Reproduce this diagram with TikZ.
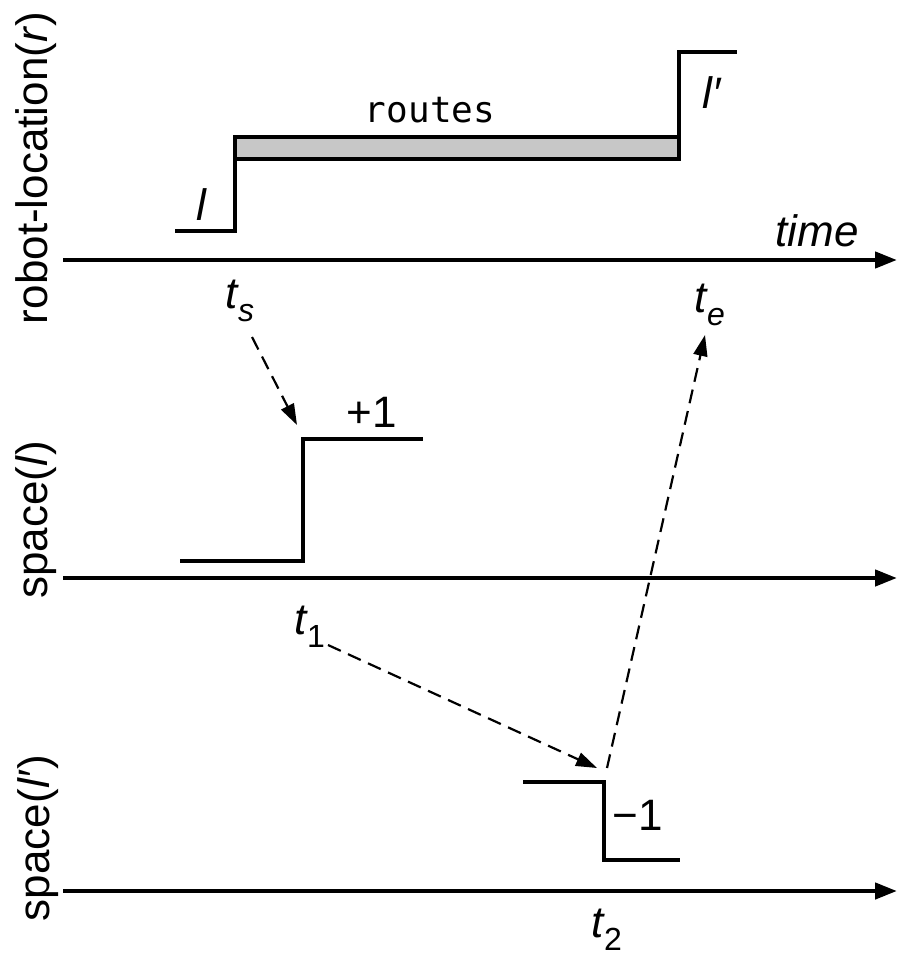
\documentclass[tikz,border=0pt]{standalone}
\usepackage{fontspec}
\setmainfont{Liberation Sans}
\setmonofont{DejaVu Sans Mono}
\usetikzlibrary{arrows.meta}
% time point: italic t with a lowered index
\newcommand\tpoint[1]{\textit{t}\kern-0.5pt\raisebox{-6.5pt}{\fontsize{16}{16}\selectfont#1}}
\begin{document}
\begin{tikzpicture}[x=0.5pt,y=-0.5pt,
  axis/.style={line width=2.2pt,-{Triangle[length=11pt,width=8pt]}},
  level/.style={line width=1.8pt,line join=miter},
  link/.style={line width=1.1pt,dash pattern=on 7pt off 4pt,-{Triangle[length=10.5pt,width=7pt]}},
  lbl/.style={font=\fontsize{22}{26}\selectfont,inner sep=0pt},
  tlbl/.style={lbl,anchor=base west},
  vlbl/.style={lbl,rotate=90},
  code/.style={font=\ttfamily\fontsize{18}{22}\selectfont,inner sep=0pt}]
\useasboundingbox (0,0) rectangle (897,957);

% time axes
\coordinate (a1s) at (63,260);  \coordinate (a1e) at (897,260);
\coordinate (a2s) at (63,578);  \coordinate (a2e) at (897,578);
\coordinate (a3s) at (63,891);  \coordinate (a3e) at (897,891);
\draw[axis] (a1s) -- (a1e);
\draw[axis] (a2s) -- (a2e);
\draw[axis] (a3s) -- (a3e);

% axis titles
\node[vlbl] (yr)  at (36,168) {robot-location(\textit{r})};
\node[vlbl] (yl)  at (36,520) {space(\textit{l})};
\node[vlbl] (yl2) at (38,838) {space(\textit{l′})};
\node[lbl]  (time) at (817,231) {\textit{time}};

% robot-location timeline
\draw[level,fill=black!22] (235,137) rectangle (679,159);
\draw[level] (175,231) -- (235,231) -- (235,137);
\draw[level] (679,159) -- (679,52) -- (737,52);
\node[lbl]  (l)   at (202,205) {\textit{l}};
\node[lbl]  (lp)  at (712,93)  {\textit{l′}};
\node[code] (routes) at (430,110) {routes};
\node[tlbl] (ts)  at (225,308) {\tpoint{\textit{s}}};
\node[tlbl] (te)  at (694,312) {\tpoint{\textit{e}}};

% space(l) step
\draw[level] (180,561) -- (303,561) -- (303,439) -- (423,439);
\node[lbl]  (plus) at (372,412) {+1};
\node[tlbl] (t1) at (294,634) {\tpoint{1}};

% space(l') step
\draw[level] (523,782) -- (604,782) -- (604,860) -- (680,860);
\node[lbl]  (minus) at (638,815) {−1};
\node[tlbl] (t2) at (591,937) {\tpoint{2}};

% causal links
\coordinate (c1s) at (252,337); \coordinate (c1e) at (297,425);
\coordinate (c2s) at (328,645); \coordinate (c2e) at (597,768);
\coordinate (c3s) at (607,768); \coordinate (c3e) at (705,335);
\draw[link] (c1s) -- (c1e);
\draw[link] (c2s) -- (c2e);
\draw[link] (c3s) -- (c3e);
\end{tikzpicture}
\end{document}
